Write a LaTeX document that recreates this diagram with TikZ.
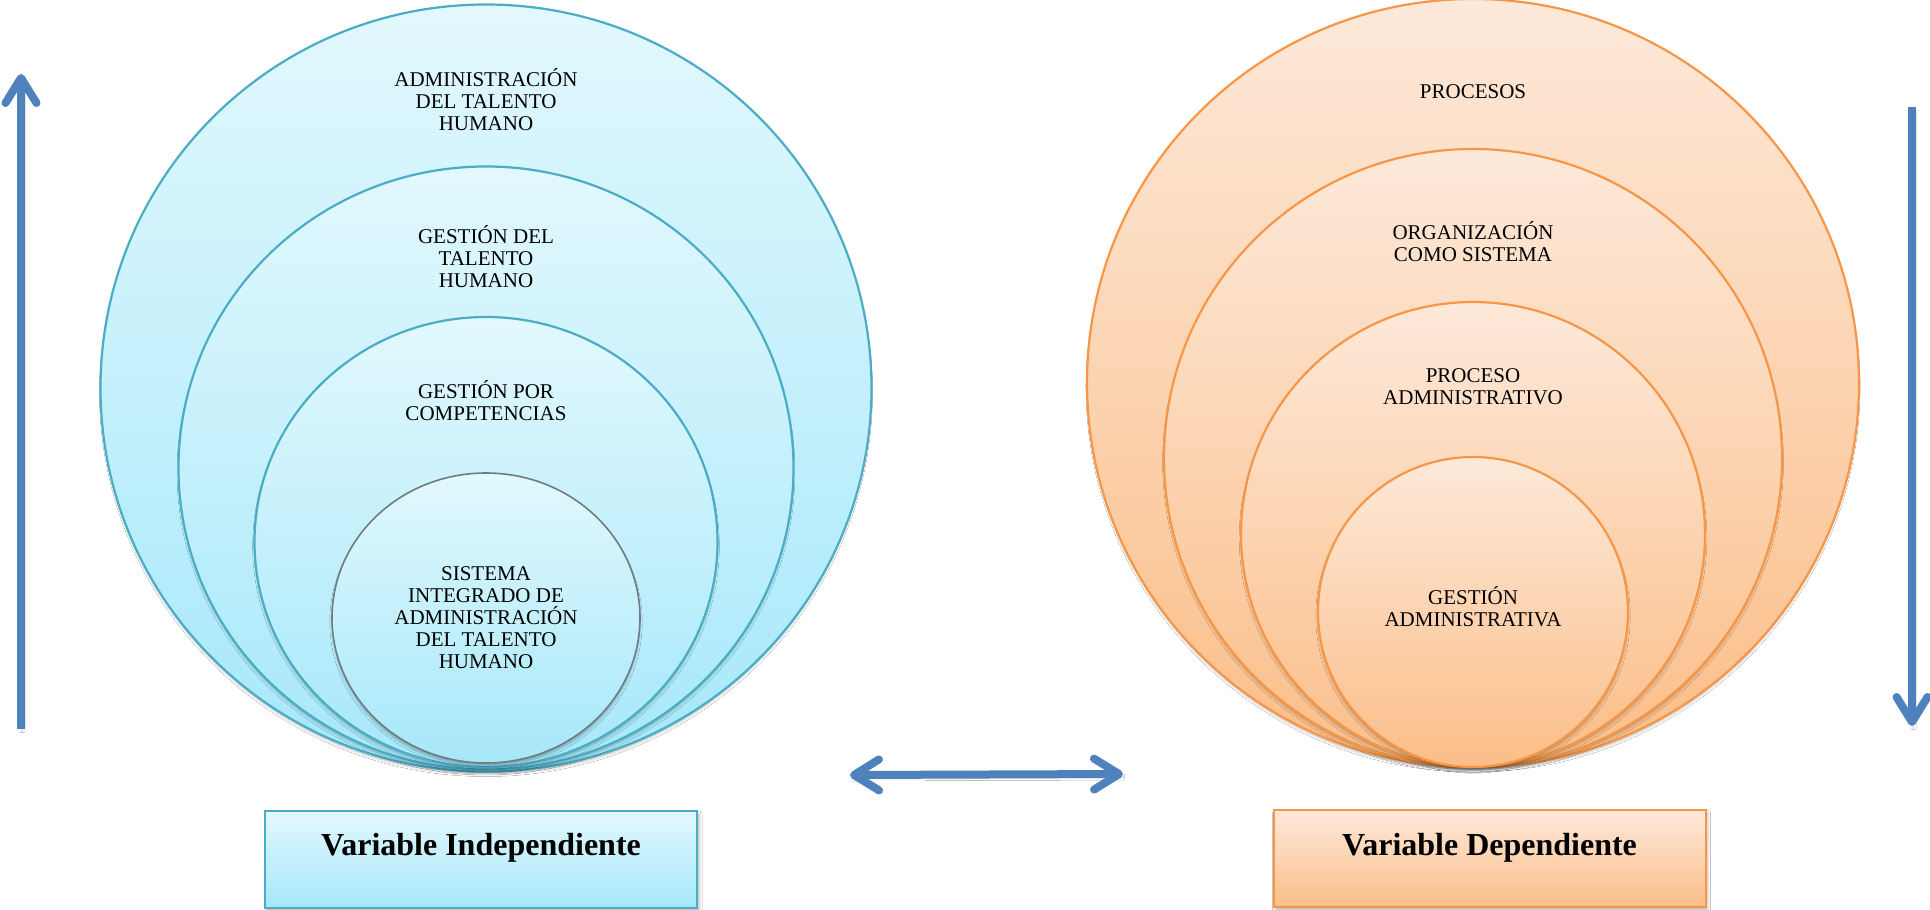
\documentclass[tikz,border=0pt]{standalone}
\usepackage{fontspec}
\setmainfont{Liberation Serif}
\usetikzlibrary{shapes.geometric,arrows.meta,shadows.blur}
\definecolor{aqualine}{HTML}{4BACC6}
\definecolor{aquatop}{HTML}{E2F8FD}
\definecolor{aquabot}{HTML}{A6E8FA}
\definecolor{orline}{HTML}{F79646}
\definecolor{ortop}{HTML}{FDE9DA}
\definecolor{orbot}{HTML}{FBBE88}
\definecolor{arrowblue}{HTML}{4F81BD}
\definecolor{innergray}{HTML}{6E7C82}
\begin{document}
\begin{tikzpicture}[x=1pt,y=-1pt,
  ring/.style={ellipse, inner sep=0pt, line width=2.2pt,
    blur shadow={shadow xshift=0pt, shadow yshift=-4pt, shadow blur radius=3pt, shadow blur steps=6, shadow opacity=30, shadow scale=0.995}},
  aquaring/.style={ring, draw=aqualine, top color=aquatop, bottom color=aquabot},
  orring/.style={ring, draw=orline, top color=ortop, bottom color=orbot},
  lbl/.style={align=center, font=\fontsize{21}{22}\selectfont, inner sep=0pt},
  varbox/.style={rectangle, inner sep=0pt, line width=2pt, minimum width=432pt, minimum height=97pt,
    blur shadow={shadow xshift=2pt, shadow yshift=-3pt, shadow blur radius=3pt, shadow opacity=30}},
  boxtext/.style={font=\bfseries\fontsize{32}{36}\selectfont, anchor=base, inner sep=0pt},
  bigarrow/.style={draw=arrowblue, line width=8pt,
    blur shadow={shadow xshift=1pt, shadow yshift=-3pt, shadow blur radius=3pt, shadow opacity=20}},
  tipend/.style={-{Straight Barb[length=25pt,width=31pt,round]}},
  tipboth/.style={{Straight Barb[length=25pt,width=31pt,round]}-{Straight Barb[length=25pt,width=31pt,round]}},
]
\useasboundingbox (0,0) rectangle (1930,910);
\fill[white] (0,0) rectangle (1930,910);

% ---------- left set of circles ----------
\node[aquaring, minimum width=771pt, minimum height=767pt] (L1) at (486,388) {};
\node[aquaring, minimum width=615pt, minimum height=603pt] (L2) at (486,468) {};
\node[aquaring, minimum width=463pt, minimum height=450pt] (L3) at (486,542) {};
\node[aquaring, draw=innergray, line width=1.6pt, minimum width=308pt, minimum height=290pt] (L4) at (486,618) {};

\node[lbl] (tL1) at (486,100) {ADMINISTRACIÓN\\DEL TALENTO\\HUMANO};
\node[lbl] (tL2) at (486,257) {GESTIÓN DEL\\TALENTO\\HUMANO};
\node[lbl] (tL3) at (486,401) {GESTIÓN POR\\COMPETENCIAS};
\node[lbl] (tL4) at (486,618) {SISTEMA\\INTEGRADO DE\\ADMINISTRACIÓN\\DEL TALENTO\\HUMANO};

% ---------- right set of circles ----------
\node[orring, minimum width=772pt, minimum height=768pt] (R1) at (1473,383) {};
\node[orring, minimum width=618pt, minimum height=618pt] (R2) at (1473,458) {};
\node[orring, minimum width=464pt, minimum height=464pt] (R3) at (1473,534) {};
\node[orring, minimum width=310pt, minimum height=310pt] (R4) at (1473,612) {};

\node[lbl] (tR1) at (1473,92) {PROCESOS};
\node[lbl] (tR2) at (1473,242) {ORGANIZACIÓN\\COMO SISTEMA};
\node[lbl] (tR3) at (1473,387) {PROCESO\\ADMINISTRATIVO};
\node[lbl] (tR4) at (1473,607) {GESTIÓN\\ADMINISTRATIVA};

% ---------- boxes ----------
\node[varbox, draw=aqualine, top color=aquatop, bottom color=aquabot] (BL) at (481,859.5) {};
\node[boxtext] (BLt) at (481,855) {Variable Independiente};
\node[varbox, draw=orline, top color=ortop, bottom color=orbot] (BR) at (1489.5,858.5) {};
\node[boxtext] (BRt) at (1489.5,855) {Variable Dependiente};

% ---------- arrows ----------
\coordinate (la1) at (21,729);
\coordinate (la2) at (21,74);
\coordinate (ra1) at (1912,107);
\coordinate (ra2) at (1912,726);
\coordinate (ma1) at (850,775);
\coordinate (ma2) at (1123,774);
\draw[bigarrow, tipend] (la1) -- (la2);
\draw[bigarrow, tipend] (ra1) -- (ra2);
\draw[bigarrow, tipboth] (ma1) -- (ma2);
\end{tikzpicture}
\end{document}
